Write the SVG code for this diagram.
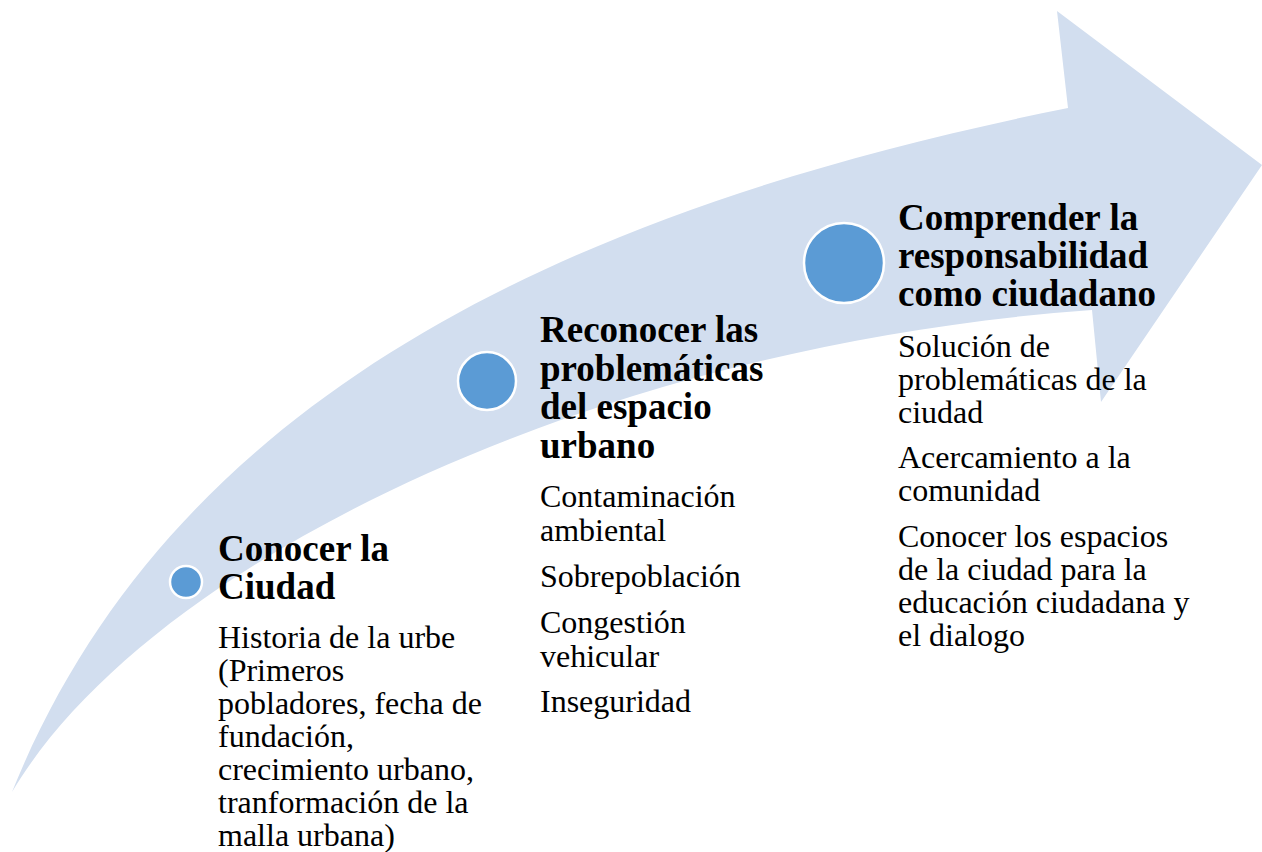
<svg xmlns="http://www.w3.org/2000/svg" width="1262" height="852" viewBox="0 0 1262 852">
<style>
.h{font-family:"Liberation Serif","Times New Roman",serif;font-weight:bold;font-size:37px;fill:#000}
.b{font-family:"Liberation Serif","Times New Roman",serif;font-size:32px;fill:#000}
.dot{fill:#5B9BD5;stroke:#fff;stroke-width:2.5}
</style>
<rect width="1262" height="852" fill="#fff"/>
<g id="arrow">
<path d="M12,792 C170,400 560,210 1068,108 L1057,11 L1262,165 L1101,402 L1092,310 C600,345 150,560 12,792 Z" fill="#D2DEEF"/>
</g>
<g id="node1">
<circle class="dot" cx="186" cy="582" r="16"/>
<text class="h"><tspan x="218" y="561">Conocer la</tspan><tspan x="218" y="599">Ciudad</tspan></text>
<text class="b"><tspan x="218" y="648">Historia de la urbe</tspan><tspan x="218" y="681">(Primeros</tspan><tspan x="218" y="714">pobladores, fecha de</tspan><tspan x="218" y="747">fundación,</tspan><tspan x="218" y="780">crecimiento urbano,</tspan><tspan x="218" y="813">tranformación de la</tspan><tspan x="218" y="846">malla urbana)</tspan></text>
</g>
<g id="node2">
<circle class="dot" cx="487" cy="381" r="29"/>
<text class="h"><tspan x="540" y="342">Reconocer las</tspan><tspan x="540" y="381">problemáticas</tspan><tspan x="540" y="419">del espacio</tspan><tspan x="540" y="458">urbano</tspan></text>
<text class="b"><tspan x="540" y="507">Contaminación</tspan><tspan x="540" y="541">ambiental</tspan><tspan x="540" y="587">Sobrepoblación</tspan><tspan x="540" y="633">Congestión</tspan><tspan x="540" y="667">vehicular</tspan><tspan x="540" y="712">Inseguridad</tspan></text>
</g>
<g id="node3">
<circle class="dot" cx="844" cy="263" r="40"/>
<text class="h"><tspan x="898" y="230">Comprender la</tspan><tspan x="898" y="268">responsabilidad</tspan><tspan x="898" y="306">como ciudadano</tspan></text>
<text class="b"><tspan x="898" y="357">Solución de</tspan><tspan x="898" y="390">problemáticas de la</tspan><tspan x="898" y="423">ciudad</tspan><tspan x="898" y="468">Acercamiento a la</tspan><tspan x="898" y="501">comunidad</tspan><tspan x="898" y="547">Conocer los espacios</tspan><tspan x="898" y="580">de la ciudad para la</tspan><tspan x="898" y="613">educación ciudadana y</tspan><tspan x="898" y="646">el dialogo</tspan></text>
</g>
<g id="connectors"></g>
</svg>
